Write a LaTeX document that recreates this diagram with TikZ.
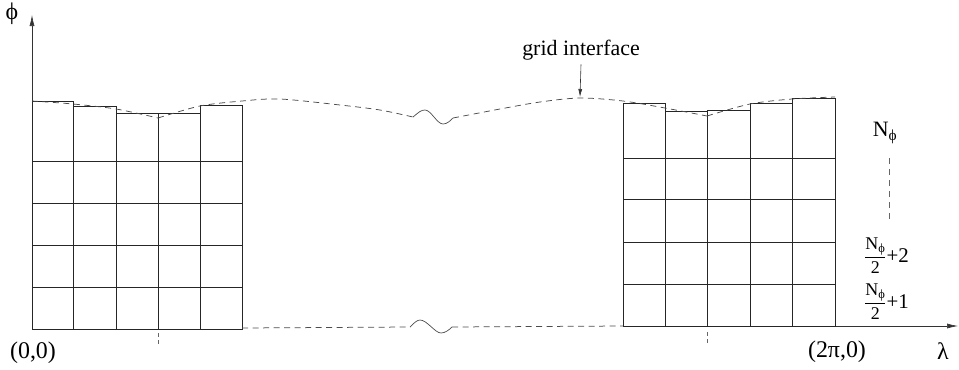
\documentclass[tikz,border=0pt]{standalone}
\usepackage{amsmath}
\usepackage{fontspec}
\setmainfont{Liberation Serif}
\usetikzlibrary{arrows.meta}
\tikzset{
  gridline/.style={line width=0.6bp, draw=black!85},
  axisline/.style={line width=0.6bp, draw=black!80},
  ifdash/.style={line width=0.75bp, draw=black!70, dash pattern=on 6bp off 4.5bp},
  wave/.style={line width=0.7bp, draw=black!70},
  tickdash/.style={line width=0.5bp, draw=black!60, dash pattern=on 4bp off 3bp},
  lbl/.style={inner sep=0pt, font=\fontsize{24}{26}\selectfont},
  smalllbl/.style={inner sep=0pt, font=\fontsize{21}{23}\selectfont},
  axtip/.style={-{Latex[length=11bp,width=5bp]}},
}
\newcommand{\halfN}{{\fontsize{18}{20}\selectfont$\displaystyle\frac{\text{N}_{\text{ϕ}}}{\text{2}}$}}
\begin{document}
\begin{tikzpicture}[x=1bp,y=-1bp]
\useasboundingbox (0,0) rectangle (959,369);
% axes
\coordinate (O) at (32,329);
\coordinate (Ytip) at (32,15);
\coordinate (R0) at (623,326);
\coordinate (Xtip) at (958,326);
\draw[axisline,axtip] (O) -- (Ytip);
\draw[axisline,axtip] (R0) -- (Xtip);
% left block
\foreach \xa/\xb/\t in {32/73/101, 73/116/106, 116/158/113, 158/200/113, 200/242/105}
  \draw[gridline] (\xa,329) rectangle (\xb,\t);
\foreach \y in {287,245,203,161}
  \draw[gridline] (32,\y) -- (242,\y);
% right block
\foreach \xa/\xb/\t in {623/665/103, 665/707/111, 707/750/110, 750/792/103, 792/835/98}
  \draw[gridline] (\xa,326) rectangle (\xb,\t);
\foreach \y in {284,242,199,158}
  \draw[gridline] (623,\y) -- (835,\y);
% top interface (dashed)
\draw[ifdash] plot[smooth] coordinates {(32,101) (73,104) (116,109) (158,118)};
\draw[ifdash] plot[smooth] coordinates {(158,118) (200,106) (242,101) (280,99) (340,105) (380,110) (413,117)};
\draw[wave] (413,117) .. controls (419,112) and (421,110) .. (425,110)
  .. controls (431,110) and (437,124) .. (443,124)
  .. controls (447,124) and (450,121) .. (453,118);
\draw[ifdash] plot[smooth] coordinates {(453,118) (500,109) (540,102) (580,98) (623,101) (665,108) (707,116)};
\draw[ifdash] plot[smooth] coordinates {(707,116) (750,104) (792,99) (835,97)};
% bottom interface
\draw[ifdash] (242,328) -- (410,327);
\draw[wave] (410,327) .. controls (414,323) and (417,320) .. (420,320)
  .. controls (427,320) and (435,333) .. (441,333)
  .. controls (445,333) and (449,330) .. (452,327);
\draw[ifdash] (452,327) -- (R0);
% ticks
\draw[tickdash] (158,333) -- (158,346);
\draw[tickdash] (707,332) -- (707,344);
% grid interface label
\node[inner sep=0pt, font=\fontsize{22}{24}\selectfont] (gi) at (581,50) {grid interface};
\coordinate (giTip) at (580,97);
\draw[axisline,-{Latex[length=8bp,width=4bp]}] ([yshift=-4bp]gi.south) -- (giTip);
% axis labels
\node[lbl] (phi) at (12,14) {ϕ};
\node[lbl] (lam) at (943,351) {λ};
\node[lbl] (orig) at (33,353) {(0,0)};
\node[lbl] (tpi) at (837,352) {(2π,0)};
% right labels
\node[inner sep=0pt, font=\fontsize{22}{24}\selectfont] (Nphi) at (885,133) {N$_{\text{ϕ}}$};
\coordinate (dTop) at (889,158);
\coordinate (dBot) at (889,222);
\draw[tickdash, dash pattern=on 6bp off 5bp] (dTop) -- (dBot);
\node[smalllbl, anchor=west] (f2) at (864,256) {\halfN+2};
\node[smalllbl, anchor=west] (f1) at (864,302) {\halfN+1};
\end{tikzpicture}
\end{document}
